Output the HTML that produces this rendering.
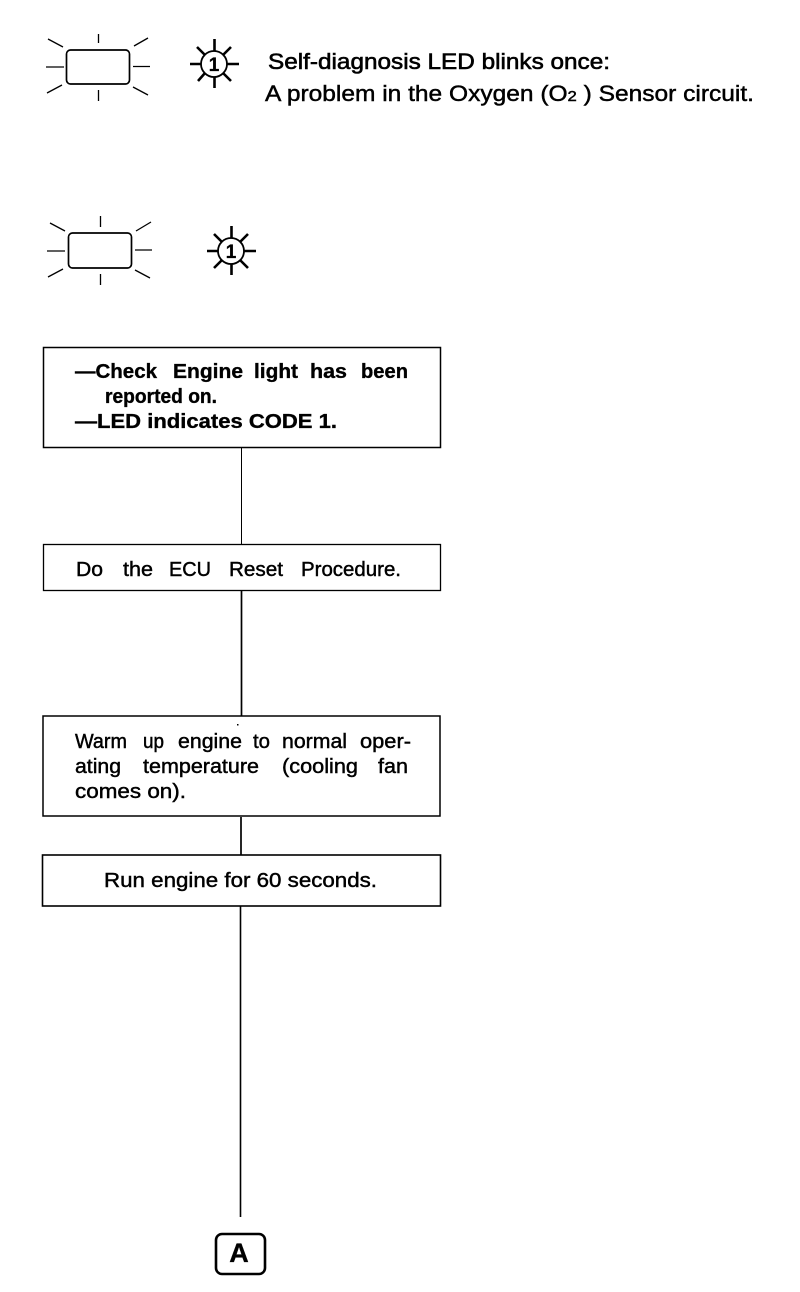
<!DOCTYPE html>
<html><head><meta charset="utf-8"><style>
html,body{margin:0;padding:0;background:#fff}
svg{display:block}
text{font-family:"Liberation Sans",sans-serif;fill:#000;font-size:20px;stroke:#000;stroke-width:.45px}
.b{font-weight:bold;stroke-width:.35px}
</style></head><body>
<svg width="800" height="1292" viewBox="0 0 800 1292" xmlns="http://www.w3.org/2000/svg">
<g fill="none" stroke="#000" stroke-width="1.3">
<rect x="66.5" y="50" width="63" height="34" rx="4" stroke-width="1.7"/>
<path d="M98.5 34V43M98.5 90V101M46 67H64M133 66.500H150M48 39L63 47M134 46L148 38M47 93L62 85M133 87L148 95"/>
<rect x="68.500" y="233" width="63" height="35" rx="4" stroke-width="1.7"/>
<path d="M100.500 216V227M100.500 274V285M47 251H65M135 250H152M50 223L65 231M136 231L151 222M48 277L63 269M135 270L150 278"/>
</g>
<g fill="none" stroke="#000">
<circle cx="214" cy="64" r="13" stroke-width="1.8"/>
<path stroke-width="2.600" d="M214.500 39V51M214.500 77V88M190 64H201M227 64H239M197 47L205 55M231 47L223 55M198 81L205 73M231 81L223 73"/>
<circle cx="231" cy="251" r="13" stroke-width="1.8"/>
<path stroke-width="2.600" d="M231.500 226V238M231.500 264V275M207 251H218M244 251H256M214 234L222 242M248 234L240 242M214 268L222 260M248 268L240 260"/>
</g>
<text x="214" y="71" text-anchor="middle" class="b" style="font-size:19px">1</text>
<text x="231" y="258" text-anchor="middle" class="b" style="font-size:19px">1</text>

<text x="268" y="69" textLength="342" lengthAdjust="spacingAndGlyphs" style="font-size:22px;stroke-width:.6px">Self-diagnosis LED blinks once:</text>
<text x="265" y="101" textLength="489" lengthAdjust="spacingAndGlyphs" style="font-size:22px">A problem in the Oxygen (O<tspan style="font-size:15px">2</tspan> ) Sensor circuit.</text>

<g fill="none" stroke="#000">
<rect x="43.500" y="347.500" width="397" height="100" stroke-width="1.500"/>
<rect x="43.500" y="544.500" width="397" height="46" stroke-width="1.300"/>
<rect x="43" y="716" width="397" height="100" stroke-width="1.500"/>
<rect x="42.500" y="855" width="398" height="51" stroke-width="1.600"/>
<path d="M241.500 448V544" stroke-width="1"/>
<path d="M241.500 591V716" stroke-width="1.700"/>
<path d="M241 817V855" stroke-width="1.700"/>
<path d="M240.500 906V1217" stroke-width="1.600"/>
<rect x="216" y="1234" width="49" height="40" rx="6" stroke-width="2.600"/>
</g>
<rect x="237" y="724" width="1.500" height="1.500" fill="#000"/>

<text class="b" x="75" y="378" textLength="82" lengthAdjust="spacingAndGlyphs">—Check</text>
<text class="b" x="173" y="378" textLength="70" lengthAdjust="spacingAndGlyphs">Engine</text>
<text class="b" x="254" y="378" textLength="44" lengthAdjust="spacingAndGlyphs">light</text>
<text class="b" x="310" y="378" textLength="37" lengthAdjust="spacingAndGlyphs">has</text>
<text class="b" x="361" y="378" textLength="47" lengthAdjust="spacingAndGlyphs">been</text>
<text class="b" x="105" y="403" textLength="112" lengthAdjust="spacingAndGlyphs">reported on.</text>
<text class="b" x="75" y="428" textLength="262" lengthAdjust="spacingAndGlyphs">—LED indicates CODE 1.</text>

<text x="76" y="576" textLength="27" lengthAdjust="spacingAndGlyphs">Do</text>
<text x="123" y="576" textLength="30" lengthAdjust="spacingAndGlyphs">the</text>
<text x="169" y="576" textLength="42" lengthAdjust="spacingAndGlyphs">ECU</text>
<text x="229" y="576" textLength="54" lengthAdjust="spacingAndGlyphs">Reset</text>
<text x="301" y="576" textLength="100" lengthAdjust="spacingAndGlyphs">Procedure.</text>

<text x="75" y="748" textLength="52" lengthAdjust="spacingAndGlyphs">Warm</text>
<text x="143" y="748" textLength="21" lengthAdjust="spacingAndGlyphs">up</text>
<text x="178" y="748" textLength="64" lengthAdjust="spacingAndGlyphs">engine</text>
<text x="253" y="748" textLength="17" lengthAdjust="spacingAndGlyphs">to</text>
<text x="282" y="748" textLength="65" lengthAdjust="spacingAndGlyphs">normal</text>
<text x="360" y="748" textLength="51" lengthAdjust="spacingAndGlyphs">oper-</text>
<text x="75" y="773" textLength="46" lengthAdjust="spacingAndGlyphs">ating</text>
<text x="143" y="773" textLength="116" lengthAdjust="spacingAndGlyphs">temperature</text>
<text x="282" y="773" textLength="76" lengthAdjust="spacingAndGlyphs">(cooling</text>
<text x="378" y="773" textLength="30" lengthAdjust="spacingAndGlyphs">fan</text>
<text x="75" y="798" textLength="111" lengthAdjust="spacingAndGlyphs">comes on).</text>

<text x="104" y="887" textLength="273" lengthAdjust="spacingAndGlyphs">Run engine for 60 seconds.</text>

<text x="239" y="1262" text-anchor="middle" class="b" style="font-size:27px">A</text>
</svg>
</body></html>
